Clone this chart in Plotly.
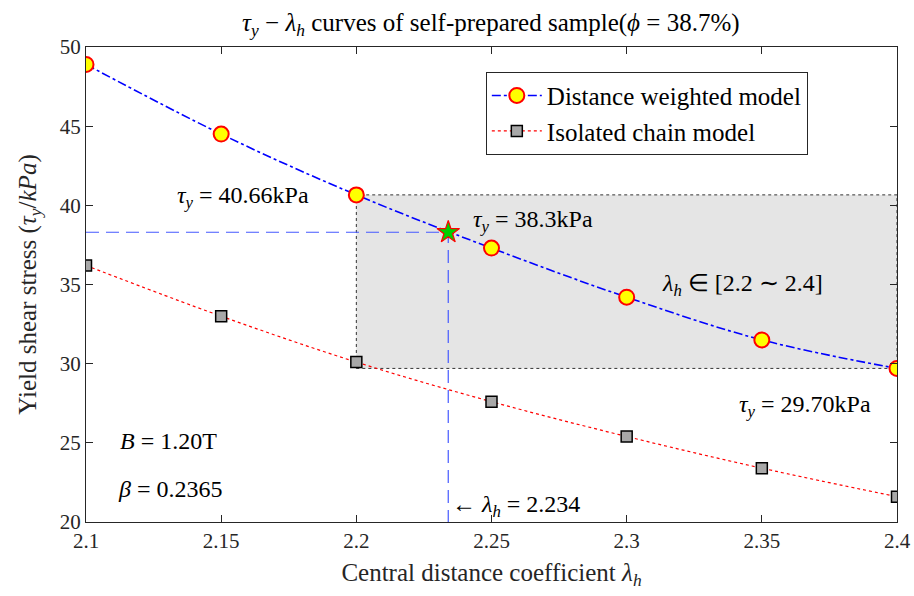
import plotly.graph_objects as go

# Central distance coefficient values
lam = [2.10, 2.15, 2.20, 2.25, 2.30, 2.35, 2.40]
# Yield shear stress (kPa) for the two models
tau_weighted = [48.9, 44.5, 40.66, 37.3, 34.2, 31.5, 29.70]
tau_isolated = [36.2, 33.0, 30.1, 27.6, 25.4, 23.4, 21.6]

# Operating point and highlighted interval
lam_star = 2.234
tau_star = 38.3
lam_lo, lam_hi = 2.2, 2.4
tau_hi, tau_lo = 40.66, 29.70

x_ticks = [2.1, 2.15, 2.2, 2.25, 2.3, 2.35, 2.4]
x_tick_text = ["2.1", "2.15", "2.2", "2.25", "2.3", "2.35", "2.4"]
y_ticks = [20, 25, 30, 35, 40, 45, 50]

FONT = "Liberation Serif, Times New Roman, serif"
INK = "#262626"

fig = go.Figure()

# shaded interval of interest
fig.add_shape(type="rect", xref="x", yref="y",
              x0=lam_lo, x1=lam_hi, y0=tau_lo, y1=tau_hi,
              fillcolor="#e5e5e5", line=dict(color="#333333", width=1, dash="dot"),
              layer="below")

# guide lines to the operating point
fig.add_trace(go.Scatter(x=[lam[0], lam_star, lam_star], y=[tau_star, tau_star, 20],
                         mode="lines", line=dict(color="rgb(70,90,255)", width=1.2, dash="13px,7px"),
                         showlegend=False, hoverinfo="skip"))

fig.add_trace(go.Scatter(x=lam, y=tau_weighted, mode="lines+markers",
                         name="Distance weighted model",
                         line=dict(color="#0000ff", width=1.6, dash="dashdot", shape="spline"),
                         marker=dict(symbol="circle", size=15, color="#ffff00",
                                     line=dict(color="#ff0000", width=2))))

fig.add_trace(go.Scatter(x=lam, y=tau_isolated, mode="lines+markers",
                         name="Isolated chain model",
                         line=dict(color="#ff0000", width=1.2, dash="dot", shape="spline"),
                         marker=dict(symbol="square", size=11, color="#a8a8a8",
                                     line=dict(color="#000000", width=1.5))))

fig.add_trace(go.Scatter(x=[lam_star], y=[tau_star], mode="markers", showlegend=False,
                         marker=dict(symbol="star", size=17, color="#00d000",
                                     line=dict(color="#ff0000", width=1.2))))

ann_font = dict(family=FONT, size=24, color="#000000")
notes = [
    (2.158, 40.55, "center", "<i>τ</i><sub><i>y</i></sub> = 40.66kPa"),
    (2.2653, 39.0, "center", "<i>τ</i><sub><i>y</i></sub> = 38.3kPa"),
    (2.3427, 34.95, "center", "<i>λ</i><sub><i>h</i></sub> ∈ [2.2 ∼ 2.4]"),
    (2.366, 27.3, "center", "<i>τ</i><sub><i>y</i></sub> = 29.70kPa"),
    (2.1307, 25.13, "center", "<i>B</i> = 1.20T"),
    (2.1311, 22.1, "center", "<i>β</i> = 0.2365"),
    (2.2345, 21.03, "left", "← <i>λ</i><sub><i>h</i></sub> = 2.234"),
]
for x, y, anchor, text in notes:
    fig.add_annotation(x=x, y=y, xref="x", yref="y", text=text, showarrow=False,
                       xanchor=anchor, yanchor="middle", font=ann_font)

axis_common = dict(showgrid=False, zeroline=False, showline=True, linecolor=INK, linewidth=1,
                   ticks="inside", ticklen=7, tickcolor=INK, mirror="ticks", automargin=False,
                   tickfont=dict(family=FONT, size=21, color=INK))

fig.update_layout(
    width=914, height=596,
    margin=dict(l=86, r=17, t=47, b=74),
    paper_bgcolor="white", plot_bgcolor="white",
    title=dict(text="<i>τ</i><sub><i>y</i></sub> − <i>λ</i><sub><i>h</i></sub> curves of self-prepared sample(<i>ϕ</i> = 38.7%)",
               x=0.537, xanchor="center", y=0.963, yanchor="middle",
               font=dict(family=FONT, size=25, color="#000000")),
    xaxis=dict(range=[2.1, 2.4], tickvals=x_ticks, ticktext=x_tick_text,
               title=dict(text="Central distance coefficient <i>λ</i><sub><i>h</i></sub>",
                          font=dict(family=FONT, size=25, color=INK), standoff=11),
               **axis_common),
    yaxis=dict(range=[20, 50], tickvals=y_ticks,
               title=dict(text="Yield shear stress (<i>τ</i><sub><i>y</i></sub>/<i>kPa</i>)",
                          font=dict(family=FONT, size=25, color=INK), standoff=16),
               **axis_common),
    legend=dict(x=0.493, y=0.948, xanchor="left", yanchor="top",
                bgcolor="white", bordercolor=INK, borderwidth=1,
                font=dict(family=FONT, size=25, color="#000000"),
                itemwidth=50, tracegroupgap=0,
                entrywidth=290, entrywidthmode="pixels"),
    showlegend=True,
)

fig.write_html("out.html")
